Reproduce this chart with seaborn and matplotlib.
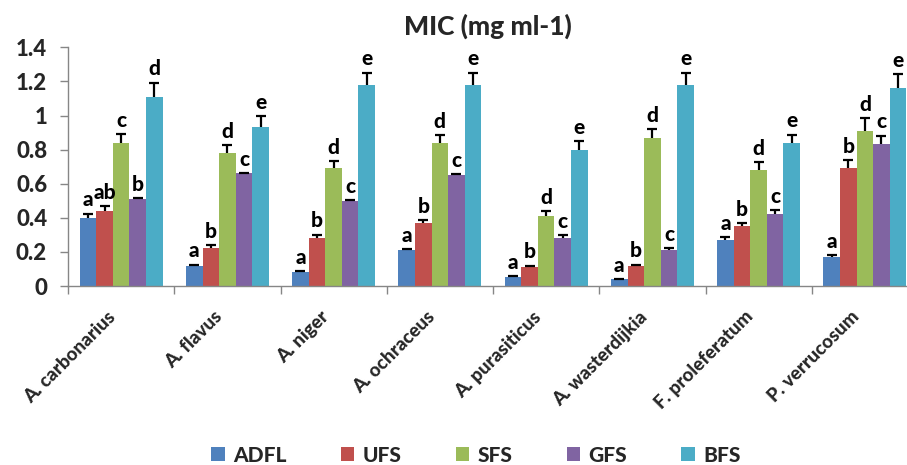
import numpy as np
import pandas as pd
import matplotlib
matplotlib.use("Agg")
import matplotlib.pyplot as plt
import matplotlib.transforms as mtrans
import seaborn as sns

categories = ["A. carbonarius", "A. flavus", "A. niger", "A. ochraceus",
              "A. purasiticus", "A. wasterdijkia", "F. proleferatum", "P. verrucosum"]
series = ["ADFL", "UFS", "SFS", "GFS", "BFS"]

ADFL = [0.40, 0.12, 0.08, 0.21, 0.05, 0.04, 0.27, 0.17]
UFS = [0.44, 0.22, 0.28, 0.37, 0.11, 0.12, 0.35, 0.69]
SFS = [0.84, 0.78, 0.69, 0.84, 0.41, 0.87, 0.68, 0.91]
GFS = [0.51, 0.66, 0.50, 0.65, 0.28, 0.21, 0.42, 0.83]
BFS = [1.11, 0.93, 1.18, 1.18, 0.80, 1.18, 0.84, 1.16]

ADFL_err = [0.025, 0.006, 0.008, 0.008, 0.006, 0.0, 0.019, 0.012]
UFS_err = [0.028, 0.018, 0.022, 0.017, 0.010, 0.006, 0.020, 0.050]
SFS_err = [0.050, 0.048, 0.044, 0.045, 0.030, 0.052, 0.048, 0.075]
GFS_err = [0.004, 0.0, 0.004, 0.004, 0.018, 0.014, 0.025, 0.052]
BFS_err = [0.083, 0.068, 0.072, 0.072, 0.050, 0.072, 0.048, 0.082]

ADFL_lbl = ["a", "a", "a", "a", "a", "a", "a", "a"]
UFS_lbl = ["ab", "b", "b", "b", "b", "b", "b", "b"]
SFS_lbl = ["c", "d", "d", "d", "d", "d", "d", "d"]
GFS_lbl = ["b", "c", "c", "c", "c", "c", "c", "c"]
BFS_lbl = ["d", "e", "e", "e", "e", "e", "e", "e"]

colors = ["#4F81BD", "#C0504D", "#9BBB59", "#8064A2", "#4BACC6"]

values = [ADFL, UFS, SFS, GFS, BFS]
errs = [ADFL_err, UFS_err, SFS_err, GFS_err, BFS_err]
lbls = [ADFL_lbl, UFS_lbl, SFS_lbl, GFS_lbl, BFS_lbl]

rows = []
for s, v, e, l in zip(series, values, errs, lbls):
    for c, vi, ei, li in zip(categories, v, e, l):
        rows.append({"Fungus": c, "Extract": s, "MIC": vi, "err": ei, "lbl": li})
df = pd.DataFrame(rows)

sns.set_theme(style="white")
plt.rcParams["font.family"] = ["Lato", "DejaVu Sans"]
W = 900

fig = plt.figure(figsize=(9.07, 4.65), dpi=100)
ax = fig.add_axes([68 / 907, 1 - 286 / 465, (918 - 68) / 907, (286 - 47.3) / 465])

sns.barplot(data=df, x="Fungus", y="MIC", hue="Extract", order=categories,
            hue_order=series, palette=colors, width=0.78, gap=0,
            errorbar=None, saturation=1, linewidth=0, ax=ax)

for i, s in enumerate(series):
    cont = ax.containers[i]
    sub = df[df["Extract"] == s].set_index("Fungus").loc[categories]
    xs = [p.get_x() + p.get_width() / 2 for p in cont.patches]
    hs = [p.get_height() for p in cont.patches]
    e = sub["err"].values
    _, caps, _ = ax.errorbar(xs, hs, yerr=[np.zeros(len(e)), e], fmt="none",
                             ecolor="black", elinewidth=1.6, capsize=3.5, capthick=1.6)
    caps[0].set_visible(False)
    for x, h, ei, lb in zip(xs, hs, e, sub["lbl"].values):
        ax.annotate(lb, (x, h + ei), xytext=(0, 3), textcoords="offset points",
                    ha="center", va="bottom", fontsize=15, fontweight=W,
                    color="black")

ax.set_ylim(0, 1.4)
ax.set_xlim(-0.5, len(categories) - 0.5)
ax.set_yticks(np.arange(0, 1.41, 0.2))
ax.set_yticklabels(["0", "0.2", "0.4", "0.6", "0.8", "1", "1.2", "1.4"])
ax.set_xlabel("")
ax.set_ylabel("")

for sp in ["top", "right"]:
    ax.spines[sp].set_visible(False)
for sp in ["left", "bottom"]:
    ax.spines[sp].set_color("#868686")
    ax.spines[sp].set_linewidth(1.0)

ax.tick_params(axis="y", which="major", left=True, length=6, width=1, color="#868686",
               pad=9, labelsize=16)
for t in ax.get_yticklabels():
    t.set_fontweight(W)
ax.set_xticks(np.arange(-0.5, len(categories), 1.0), minor=True)
ax.tick_params(axis="x", which="minor", bottom=True, length=6, width=1, color="#868686")
ax.tick_params(axis="x", which="major", bottom=False, length=0, pad=8)
ax.set_xticks(range(len(categories)))
ax.set_xticklabels(categories, rotation=45, ha="right", va="top",
                   rotation_mode="anchor", fontsize=13.5, fontweight=W)
shift = mtrans.ScaledTranslation(-14 / 100, -11 / 100, fig.dpi_scale_trans)
for t in ax.get_xticklabels():
    t.set_transform(t.get_transform() + shift)

fig.text(488 / 907, 1 - 26 / 465, "MIC (mg ml-1)", ha="center", va="center",
         fontsize=19, fontweight=W)

handles, labels = ax.get_legend_handles_labels()
if ax.legend_:
    ax.legend_.remove()
fig.legend(handles, labels, loc="center", bbox_to_anchor=(476 / 907, 1 - 455 / 465),
           ncol=5, frameon=False, handlelength=0.65, handleheight=0.65,
           handletextpad=0.4, columnspacing=2.6, prop={"weight": W, "size": 15})

fig.savefig("out.png", dpi=100)
